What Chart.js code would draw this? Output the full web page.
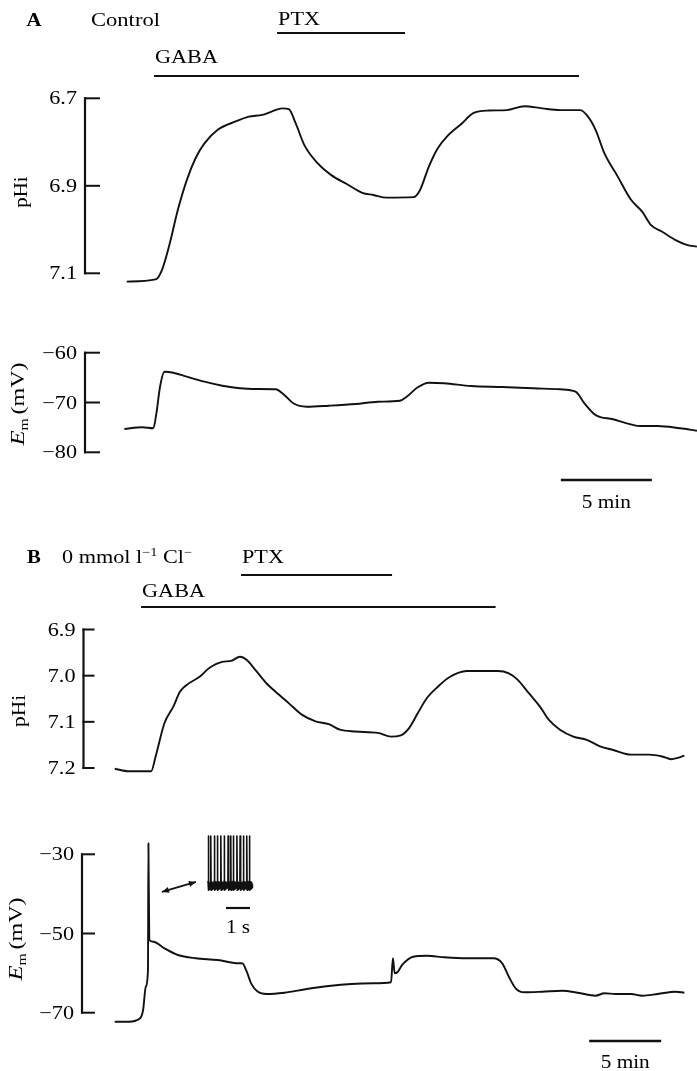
<!DOCTYPE html>
<html><head><meta charset="utf-8">
<script src="https://cdn.jsdelivr.net/npm/chart.js@4.4.1/dist/chart.umd.min.js"></script>
<style>html,body{margin:0;padding:0;background:#fff}canvas{display:block}</style>
</head><body>
<canvas id="c" width="697" height="1071"></canvas>
<script>
// ---------------- DATA ----------------
// Panel A (control): time in minutes
const timeA_pHi = [0.15,1.74,2.09,2.47,2.96,3.45,3.93,4.42,5.15,6.13,6.86,7.59,8.08,8.69,9.06,9.43,9.91,10.65,11.37,12.24,13.09,13.70,14.43,15.90,16.26,16.75,17.24,17.73,18.58,19.19,20.05,21.03,22.0,22.98,23.96,25.05,25.42,25.91,26.40,27.13,27.86,28.47,28.96,29.57,30.31,30.92,31.48];
const pHiA = [7.119,7.114,7.092,7.039,6.955,6.887,6.837,6.803,6.772,6.753,6.742,6.738,6.731,6.723,6.725,6.757,6.807,6.849,6.875,6.896,6.916,6.921,6.927,6.926,6.910,6.856,6.814,6.788,6.757,6.734,6.728,6.727,6.718,6.723,6.727,6.727,6.738,6.772,6.826,6.879,6.932,6.959,6.990,7.005,7.024,7.035,7.039];
const timeA_Em = [0.02,1.0,1.61,1.78,1.98,2.22,2.71,3.45,4.42,5.40,6.37,7.35,8.33,8.81,9.30,10.04,11.26,12.73,13.95,15.16,15.53,16.14,16.75,17.60,19.07,20.78,22.49,23.96,24.81,25.30,25.91,26.88,27.62,28.35,29.33,30.55,31.48];
const EmA = [-75.32,-74.98,-75.18,-72.17,-66.83,-63.82,-64.02,-64.82,-65.82,-66.63,-67.15,-67.29,-67.35,-68.49,-70.16,-70.84,-70.64,-70.30,-69.84,-69.64,-68.84,-66.95,-66.02,-66.14,-66.69,-66.89,-67.15,-67.35,-67.83,-70.16,-72.51,-73.37,-74.18,-74.72,-74.72,-75.18,-75.66];
const drugLabelsA = ['PTX','GABA'];
const drugStartA = [8.41, 1.65];
const drugEndA = [15.44, 25.0];
const scaleBarA = [24.0, 29.0];          // 5 min
const pHiTicksA = [6.7, 6.9, 7.1];
const pHiTickLabelsA = ['6.7','6.9','7.1'];
const EmTicksA = [-60, -70, -80];
const EmTickLabelsA = ['\u221260','\u221270','\u221280'];

// Panel B (0 mmol l-1 Cl-): time in minutes
const timeB_pHi = [0.05,1.03,2.58,2.89,3.50,4.12,4.58,5.05,5.97,6.59,7.51,8.13,8.75,9.22,9.83,10.60,11.22,12.15,13.07,14.0,14.92,15.69,16.78,18.32,19.24,19.86,20.48,21.10,21.72,22.49,23.26,24.49,25.42,26.65,27.42,28.04,28.81,29.58,30.20,30.97,31.9,32.83,33.75,34.67,35.91,37.15,38.07,38.69,39.15,39.61];
const pHiB = [7.2015,7.207,7.207,7.175,7.103,7.067,7.035,7.020,7.002,6.984,6.970,6.968,6.959,6.966,6.988,7.017,7.035,7.060,7.085,7.099,7.105,7.117,7.121,7.124,7.132,7.130,7.114,7.081,7.049,7.024,7.004,6.990,6.990,6.990,6.995,7.009,7.038,7.067,7.096,7.117,7.132,7.139,7.153,7.161,7.171,7.171,7.175,7.181,7.178,7.173];
const timeB_Em = [0.05,1.03,1.81,2.02,2.21,2.36,2.39,2.45,2.73,3.50,4.43,5.67,7.21,8.60,8.90,9.22,9.52,9.99,10.6,11.83,13.38,14.92,16.47,18.01,19.24,19.37,19.49,19.71,20.01,20.78,21.72,22.94,24.49,26.34,26.96,27.42,27.89,28.5,29.74,31.13,32.21,33.44,34.06,34.83,35.91,36.68,37.76,39.0,39.61];
const EmB = [-72.27,-72.27,-71.41,-69.32,-63.43,-59.22,-27.22,-51.64,-52.07,-53.74,-55.43,-56.26,-56.69,-57.53,-57.53,-59.65,-62.58,-64.70,-65.28,-64.95,-64.02,-63.26,-62.75,-62.58,-62.32,-56.26,-60.05,-59.65,-57.95,-55.86,-55.61,-56.01,-56.26,-56.26,-57.53,-60.91,-63.84,-64.85,-64.70,-64.44,-64.95,-65.71,-65.10,-65.28,-65.28,-65.71,-65.28,-64.70,-64.95];
const drugLabelsB = ['PTX','GABA'];
const drugStartB = [8.82, 1.88];
const drugEndB = [19.31, 26.5];
const scaleBarB = [33.0, 38.0];          // 5 min
const pHiTicksB = [6.9, 7.0, 7.1, 7.2];
const pHiTickLabelsB = ['6.9','7.0','7.1','7.2'];
const EmTicksB = [-30, -50, -70];
const EmTickLabelsB = ['\u221230','\u221250','\u221270'];

// Inset: spike burst, time in seconds
const insetTime = [0,0.008,0.02,0.04,0.06,0.08,0.10,
  0.11,0.118,0.13,0.15,0.17,0.19,0.21,0.23,0.25,
  0.26,0.268,0.28,0.30,0.32,0.34,0.36,0.38,
  0.39,0.398,0.41,0.43,0.45,0.47,0.49,0.51,
  0.53,0.538,0.55,0.57,0.59,0.61,0.63,0.65,
  0.67,0.678,0.69,0.71,0.73,0.75,0.77,0.79,0.81,
  0.83,0.838,0.85,0.87,0.89,0.91,
  0.94,0.948,0.96,0.98,1.00,1.02,
  1.05,1.058,1.07,1.09,1.11,1.13,1.15,1.17,
  1.20,1.208,1.22,1.24,1.26,1.28,1.30,
  1.33,1.338,1.35,1.37,1.39,1.41,1.43,1.45,
  1.47,1.478,1.49,1.51,1.53,1.55,1.57,1.59,
  1.61,1.618,1.63,1.65,1.67,1.69,
  1.72,1.728,1.74,1.76,1.78,1.80,1.82,1.84,1.85];
const insetEm = [-34,20,-45,-35,-44,-36,-43,
  -34,20,-45,-35,-44,-36,-43,-37,-42,
  -34,20,-45,-35,-44,-36,-43,-38,
  -34,20,-45,-35,-44,-36,-43,-38,
  -34,20,-45,-35,-44,-36,-43,-38,
  -34,20,-45,-35,-44,-36,-43,-37,-42,
  -34,20,-45,-35,-44,-38,
  -34,20,-45,-35,-44,-38,
  -34,20,-45,-35,-44,-36,-43,-38,
  -34,20,-45,-35,-44,-36,-43,
  -34,20,-45,-35,-44,-36,-43,-38,
  -34,20,-45,-35,-44,-36,-43,-38,
  -34,20,-45,-35,-44,-38,
  -34,20,-45,-35,-44,-36,-43,-38,-42];
const insetScaleBar = [0.75, 1.75];      // 1 s

// ---------------- LAYOUT (pixel anchors for scale ranges) ----------------
const W = 697, H = 1071;
function fitAxis(v1, p1, v2, p2, size) {
  const k = (p2 - p1) / (v2 - v1);
  const a = v1 - p1 / k, b = v1 + (size - p1) / k;
  return { min: Math.min(a, b), max: Math.max(a, b), reverse: k > 0 };
}
function xScale(f) { return { type:'linear', display:false, bounds:'data', min:f.min, max:f.max, reverse:false }; }
function yScale(f) { return { type:'linear', display:false, bounds:'data', min:f.min, max:f.max, reverse:f.reverse }; }

const scales = {
  xA: xScale(fitAxis(0, 124, 5, 215, W)),
  xB: xScale(fitAxis(0, 114, 5, 186, W)),
  xI: xScale(fitAxis(0, 208, 1, 232, W)),
  yPhA: yScale(fitAxis(6.7, 98.3, 7.1, 273.3, H)),
  yEmA: yScale(fitAxis(-60, 352.7, -80, 452.3, H)),
  yPhB: yScale(fitAxis(6.9, 629.5, 7.2, 768, H)),
  yEmB: yScale(fitAxis(-30, 854.3, -70, 1012.7, H)),
  yI: yScale(fitAxis(-40, 886, 20, 836, H))
};

function zip(xs, ys) { const n = Math.min(xs.length, ys.length); const o = []; for (let i = 0; i < n; i++) o.push({x: xs[i], y: ys[i]}); return o; }
function trace(label, xs, ys, xAxisID, yAxisID, width, straight) {
  const d = { label, data: zip(xs, ys), xAxisID, yAxisID, borderColor:'#111', borderWidth: width || 1.9,
    pointRadius:0, fill:false, clip:false, borderJoinStyle:'round' };
  if (straight) d.tension = 0; else d.cubicInterpolationMode = 'monotone';
  return d;
}

const SERIF = '"Liberation Serif", "Times New Roman", serif';
function txt(ctx, s, x, y, o) {
  o = o || {};
  ctx.save();
  ctx.font = (o.style || '') + ' ' + (o.size || 18) + 'px ' + SERIF;
  ctx.fillStyle = '#000';
  ctx.textAlign = o.align || 'left';
  ctx.textBaseline = o.baseline || 'alphabetic';
  ctx.translate(x, y);
  if (o.rot) ctx.rotate(o.rot);
  ctx.scale(o.sx || 1.2, 1);
  ctx.fillText(s, 0, 0);
  ctx.restore();
}
function runs(ctx, parts, x, y, o) {
  o = o || {};
  ctx.save();
  ctx.fillStyle = '#000';
  ctx.translate(x, y);
  if (o.rot) ctx.rotate(o.rot);
  ctx.scale(o.sx || 1.2, 1);
  ctx.textAlign = 'left';
  ctx.textBaseline = 'alphabetic';
  const fonts = parts.map(p => (p.style || '') + ' ' + p.size + 'px ' + SERIF);
  let total = 0;
  const w = parts.map((p, i) => { ctx.font = fonts[i]; const m = ctx.measureText(p.t).width + (p.gap || 0); total += m; return m; });
  let cx = o.align === 'center' ? -total / 2 : 0;
  parts.forEach((p, i) => { ctx.font = fonts[i]; ctx.fillText(p.t, cx, p.dy || 0); cx += w[i]; });
  ctx.restore();
}
function hline(ctx, x1, x2, y, lw) {
  ctx.save(); ctx.strokeStyle = '#111'; ctx.lineWidth = lw; ctx.beginPath(); ctx.moveTo(x1, y); ctx.lineTo(x2, y); ctx.stroke(); ctx.restore();
}
function bracketAxis(ctx, scale, x, ticks, labels, tickLen) {
  const ps = ticks.map(v => scale.getPixelForValue(v));
  const top = Math.min(...ps), bot = Math.max(...ps);
  ctx.save();
  ctx.strokeStyle = '#111'; ctx.lineWidth = 2.2;
  ctx.beginPath(); ctx.moveTo(x, top - 1); ctx.lineTo(x, bot + 1); ctx.stroke();
  ctx.lineWidth = 2;
  ps.forEach(p => { ctx.beginPath(); ctx.moveTo(x - 1, p); ctx.lineTo(x + tickLen, p); ctx.stroke(); });
  ctx.restore();
  ps.forEach((p, i) => txt(ctx, labels[i], x - 8, p + 6, { size: 18.5, align: 'right', sx: 1.2 }));
}
function drugBars(ctx, xs, labels, starts, ends, rows) {
  labels.forEach((lab, i) => {
    const x1 = xs.getPixelForValue(starts[i]), x2 = xs.getPixelForValue(ends[i]);
    hline(ctx, x1, x2, rows[i].bar, 2.2);
    txt(ctx, lab, x1 + 1, rows[i].text, { size: 18.5, sx: 1.2 });
  });
}
function arrow(ctx, x1, y1, x2, y2) {
  ctx.save(); ctx.strokeStyle = '#111'; ctx.fillStyle = '#111'; ctx.lineWidth = 1.8;
  ctx.beginPath(); ctx.moveTo(x1, y1); ctx.lineTo(x2, y2); ctx.stroke();
  const ang = Math.atan2(y2 - y1, x2 - x1);
  [[x2, y2, ang], [x1, y1, ang + Math.PI]].forEach(([x, y, a]) => {
    ctx.beginPath();
    ctx.moveTo(x, y);
    ctx.lineTo(x - 7 * Math.cos(a) + 3 * Math.sin(a), y - 7 * Math.sin(a) - 3 * Math.cos(a));
    ctx.lineTo(x - 7 * Math.cos(a) - 3 * Math.sin(a), y - 7 * Math.sin(a) + 3 * Math.cos(a));
    ctx.closePath(); ctx.fill();
  });
  ctx.restore();
}

const figurePlugin = {
  id: 'figure',
  beforeDraw(chart) {
    const ctx = chart.ctx; ctx.save(); ctx.fillStyle = '#fff'; ctx.fillRect(0, 0, chart.width, chart.height); ctx.restore();
  },
  afterDatasetsDraw(chart) {
    const ctx = chart.ctx, s = chart.scales;
    // ---- Panel A ----
    txt(ctx, 'A', 34, 26, { size: 18, style: 'bold', align: 'center', sx: 1.15 });
    txt(ctx, 'Control', 91, 26, { size: 18.5, sx: 1.22 });
    drugBars(ctx, s.xA, drugLabelsA, drugStartA, drugEndA, [{ bar: 33, text: 25 }, { bar: 76, text: 63 }]);
    bracketAxis(ctx, s.yPhA, 85, pHiTicksA, pHiTickLabelsA, 15);
    bracketAxis(ctx, s.yEmA, 85, EmTicksA, EmTickLabelsA, 15);
    txt(ctx, 'pHi', 27, 192, { size: 19, align: 'center', rot: -Math.PI / 2, sx: 1.1 });
    runs(ctx, [{ t: 'E', size: 19, style: 'italic' }, { t: 'm', size: 12, dy: 4, gap: 3 }, { t: '(mV)', size: 18.5 }], 24, 404, { rot: -Math.PI / 2, align: 'center', sx: 1.3 });
    hline(ctx, s.xA.getPixelForValue(scaleBarA[0]), s.xA.getPixelForValue(scaleBarA[1]), 480, 2.6);
    txt(ctx, '5 min', (s.xA.getPixelForValue(scaleBarA[0]) + s.xA.getPixelForValue(scaleBarA[1])) / 2, 508, { size: 18.5, align: 'center', sx: 1.15 });
    // ---- Panel B ----
    txt(ctx, 'B', 34, 563, { size: 18, style: 'bold', align: 'center', sx: 1.15 });
    runs(ctx, [{ t: '0 mmol l', size: 18.5 }, { t: '\u22121', size: 12, dy: -7 }, { t: ' Cl', size: 18.5 }, { t: '\u2212', size: 12, dy: -7 }], 62, 563, { sx: 1.2 });
    drugBars(ctx, s.xB, drugLabelsB, drugStartB, drugEndB, [{ bar: 575, text: 563 }, { bar: 607, text: 597 }]);
    bracketAxis(ctx, s.yPhB, 83.5, pHiTicksB, pHiTickLabelsB, 11);
    bracketAxis(ctx, s.yEmB, 82, EmTicksB, EmTickLabelsB, 13);
    txt(ctx, 'pHi', 25, 711, { size: 19.5, align: 'center', rot: -Math.PI / 2, sx: 1.1 });
    runs(ctx, [{ t: 'E', size: 19, style: 'italic' }, { t: 'm', size: 12, dy: 4, gap: 3 }, { t: '(mV)', size: 18.5 }], 22, 939, { rot: -Math.PI / 2, align: 'center', sx: 1.3 });
    hline(ctx, s.xB.getPixelForValue(scaleBarB[0]), s.xB.getPixelForValue(scaleBarB[1]), 1041, 2.6);
    txt(ctx, '5 min', (s.xB.getPixelForValue(scaleBarB[0]) + s.xB.getPixelForValue(scaleBarB[1])) / 2, 1068, { size: 18.5, align: 'center', sx: 1.15 });
    // inset annotations
    arrow(ctx, s.xB.getPixelForValue(3.33), s.yEmB.getPixelForValue(-39.5), s.xB.getPixelForValue(5.69), s.yEmB.getPixelForValue(-36.97));
    const ib1 = s.xI.getPixelForValue(insetScaleBar[0]), ib2 = s.xI.getPixelForValue(insetScaleBar[1]);
    hline(ctx, ib1, ib2, 908, 2.2);
    txt(ctx, '1 s', (ib1 + ib2) / 2, 933, { size: 18.5, align: 'center', sx: 1.15 });
  }
};

new Chart(document.getElementById('c'), {
  type: 'line',
  data: {
    datasets: [
      trace('pHi A', timeA_pHi, pHiA, 'xA', 'yPhA'),
      trace('Em A', timeA_Em, EmA, 'xA', 'yEmA'),
      trace('pHi B', timeB_pHi, pHiB, 'xB', 'yPhB'),
      trace('Em B', timeB_Em, EmB, 'xB', 'yEmB'),
      trace('Inset spikes', insetTime, insetEm, 'xI', 'yI', 1.6, true)
    ]
  },
  options: {
    responsive: false,
    animation: false,
    events: [],
    layout: { padding: 0 },
    plugins: { legend: { display: false }, tooltip: { enabled: false }, title: { display: false } },
    scales: scales
  },
  plugins: [figurePlugin]
});
</script>
</body></html>
